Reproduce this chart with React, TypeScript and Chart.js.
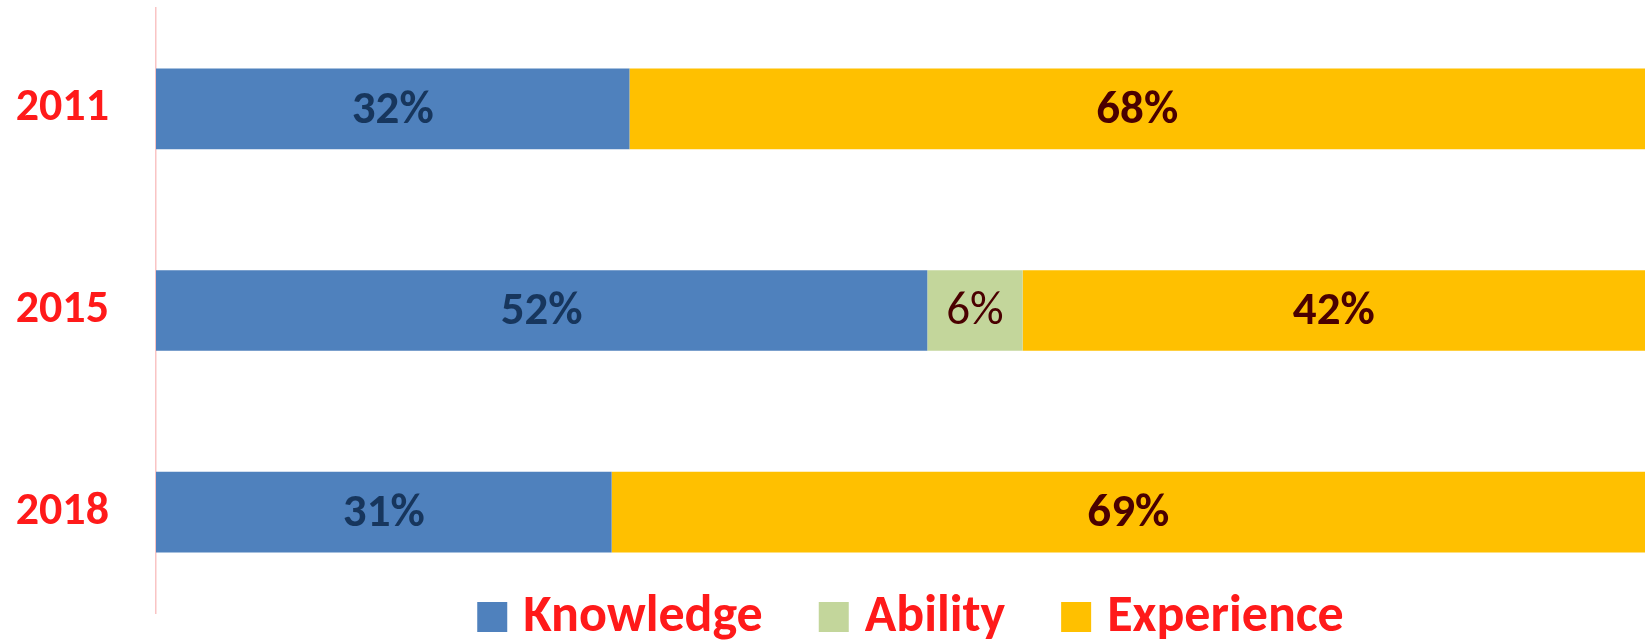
import React, { useEffect, useRef } from "react";
import { Chart, registerables } from "chart.js";

Chart.register(...registerables);

const categories = ["2011", "2015", "2018"];
const seriesNames = ["Knowledge", "Ability", "Experience"];
const knowledge = [31.8, 51.8, 30.6];
const ability = [0, 6.4, 0];
const experience = [68.2, 41.8, 69.4];

const colors = ["#4f81bd", "#c3d69b", "#ffc000"];
const labelColors = ["#17365d", "#4a0000", "#4a0000"];
const labelWeights = ["bold", "normal", "bold"];
const FONT = "Calibri, Carlito, Lato, sans-serif";
const RED = "#ff1a1a";

const valueLabels = {
  id: "valueLabels",
  afterDatasetsDraw(chart: any) {
    const ctx = chart.ctx;
    ctx.save();
    chart.data.datasets.forEach((ds: any, i: number) => {
      const meta = chart.getDatasetMeta(i);
      meta.data.forEach((el: any, j: number) => {
        const v = ds.data[j];
        if (!v) return;
        const p = el.getProps(["x", "y", "base"], true);
        ctx.font = `${labelWeights[i]} 47px ${FONT}`;
        ctx.fillStyle = labelColors[i];
        ctx.textAlign = "center";
        ctx.textBaseline = "middle";
        ctx.fillText(`${Math.round(v)}%`, (p.x + p.base) / 2, p.y + 2);
      });
    });
    ctx.restore();
  },
};

const bottomLegend = {
  id: "bottomLegend",
  afterDraw(chart: any) {
    const ctx = chart.ctx;
    const box = 30;
    const gapText = 16;
    const gapItem = 56;
    ctx.save();
    ctx.font = `bold 52px ${FONT}`;
    const items = chart.data.datasets.map((ds: any) => ({
      label: ds.label,
      color: ds.backgroundColor,
      w: ctx.measureText(ds.label).width,
    }));
    const total =
      items.reduce((s: number, it: any) => s + box + gapText + it.w, 0) +
      gapItem * (items.length - 1);
    const ca = chart.chartArea;
    let x = (ca.left + ca.right) / 2 + 10 - total / 2;
    const yMid = 617;
    items.forEach((it: any) => {
      ctx.fillStyle = it.color;
      ctx.fillRect(x, yMid - box / 2, box, box);
      x += box + gapText;
      ctx.fillStyle = RED;
      ctx.textAlign = "left";
      ctx.textBaseline = "middle";
      ctx.fillText(it.label, x, yMid + 1);
      x += it.w + gapItem;
    });
    ctx.restore();
  },
};

export default function App() {
  const ref = useRef<HTMLCanvasElement>(null);
  useEffect(() => {
    document.body.style.margin = "0";
    if (!ref.current) return;
    const chart = new Chart(ref.current, {
      type: "bar",
      data: {
        labels: categories,
        datasets: [
          { label: seriesNames[0], data: knowledge, backgroundColor: colors[0] },
          { label: seriesNames[1], data: ability, backgroundColor: colors[1] },
          { label: seriesNames[2], data: experience, backgroundColor: colors[2] },
        ],
      },
      options: {
        indexAxis: "y",
        animation: false,
        responsive: true,
        maintainAspectRatio: false,
        datasets: { bar: { barPercentage: 0.5, categoryPercentage: 0.8 } },
        layout: { padding: { top: 8, bottom: 28, left: 0, right: 0 } },
        plugins: { legend: { display: false }, tooltip: { enabled: false } },
        scales: {
          x: {
            stacked: true,
            min: 0,
            max: 100,
            display: false,
          },
          y: {
            stacked: true,
            grid: { display: false, drawTicks: false },
            border: { display: true, color: "#f9c4c4", width: 1.5 },
            ticks: {
              color: RED,
              padding: 47,
              font: { family: FONT, size: 46, weight: "bold" },
            },
            afterFit(scale: any) {
              scale.width = 156;
              scale.paddingTop = 0;
              scale.paddingBottom = 0;
            },
          },
        },
      },
      plugins: [valueLabels, bottomLegend],
    });
    return () => chart.destroy();
  }, []);
  return (
    <div style={{ position: "relative", width: 1645, height: 641 }}>
      <canvas ref={ref} />
    </div>
  );
}
